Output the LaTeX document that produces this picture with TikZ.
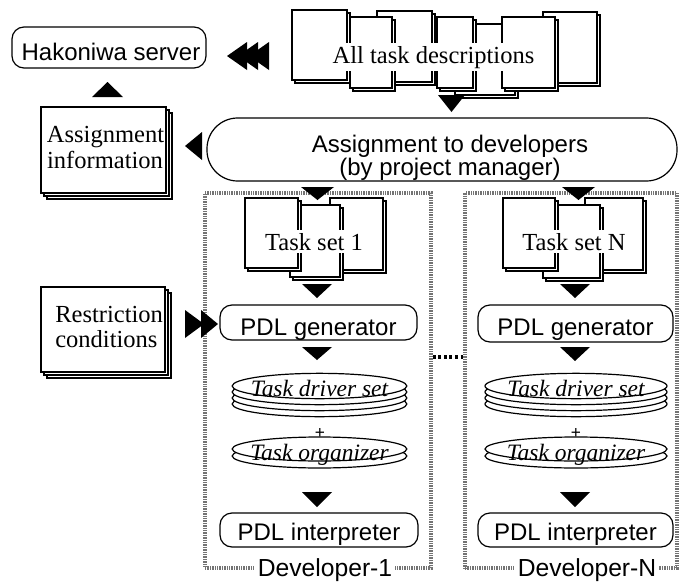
\documentclass[tikz,border=0pt]{standalone}
\usepackage{fontspec}
\setmainfont{Liberation Serif}
\setsansfont{Liberation Sans}
\usetikzlibrary{shapes.geometric,shadows}
\newcommand\TriDn[4]{\fill (#1,#2) -- ++(#3,0) -- ++({-(#3)/2},#4) -- cycle;}
\newcommand\TriUp[4]{\fill (#1,#2) -- ++(#3,0) -- ++({-(#3)/2},{-(#4)}) -- cycle;}
\newcommand\TriLt[4]{\fill (#1,#2) -- ++(0,#4) -- ++({-(#3)},{-(#4)/2}) -- cycle;}
\newcommand\TriRt[4]{\fill (#1,#2) -- ++(0,#4) -- ++(#3,{-(#4)/2}) -- cycle;}
\tikzset{
 sf/.style={font=\sffamily\fontsize{18}{19}\selectfont},
 rm/.style={font=\rmfamily\fontsize{18.4}{19.5}\selectfont},
 itf/.style={font=\rmfamily\itshape\fontsize{17.6}{20}\selectfont},
 txt/.style={inner sep=0pt, anchor=base},
 rbox/.style={draw, line width=0.9pt, rounded corners=9pt, inner sep=0pt, fill=white},
 sheet/.style={draw, fill=white, line width=0.9pt,
   copy shadow={shadow xshift=2.2pt, shadow yshift=-2.2pt, draw, fill=white, line width=1.6pt}},
 docbox/.style={draw, fill=white, line width=0.9pt, inner sep=0pt,
   copy shadow={shadow xshift=4.6pt, shadow yshift=-4.6pt, draw, fill=white, line width=1.4pt},
   copy shadow={shadow xshift=2.2pt, shadow yshift=-2.2pt, draw, fill=white, line width=1.4pt}},
 devbox/.style={draw=black!55, line width=2.4pt, dash pattern=on 1pt off 0.8pt, inner sep=0pt},
 devdots/.style={line width=2.6pt, dash pattern=on 2.2pt off 2pt},
 disk/.style={ellipse, draw, fill=white, line width=0.9pt, inner sep=0pt},
 plussign/.style={font=\sffamily\fontsize{13}{13}\selectfont, inner sep=0pt},
 devlabel/.style={font=\sffamily\fontsize{18.5}{20}\selectfont, fill=white, inner sep=2pt, anchor=base},
}
\begin{document}
\begin{tikzpicture}[x=0.75pt,y=-0.75pt]
\useasboundingbox (0,0) rectangle (679,582);

% developer frames
\node[devbox, minimum width=169.5pt, minimum height=281.25pt] (dev1) at (318,380.5) {};
\node[devbox, minimum width=159pt, minimum height=281.25pt] (devN) at (571,380.5) {};
\draw[devdots] ([yshift=17.6pt]dev1.east) -- ([yshift=17.6pt]devN.west);
\node[devlabel] (lab1) at (325,576) {Developer-1};
\node[devlabel] (labN) at (587,576) {Developer-N};

% Hakoniwa server
\node[rbox, minimum width=145.5pt, minimum height=30.75pt] (hak) at (109,47.5) {};
\node[txt, sf] (hakt) at (111,60) {Hakoniwa server};

% All task descriptions
\draw[sheet] (292,10) rectangle (347,80);
\draw[sheet] (377,11) rectangle (432,82);
\draw[sheet] (455,24) rectangle (515,95);
\draw[sheet] (543,12) rectangle (597,83);
\draw[sheet] (350,17) rectangle (392,88);
\draw[sheet] (437,17) rectangle (473,88);
\draw[sheet] (502,17) rectangle (555,88);
\node[rm, fill=white, inner sep=2pt, anchor=base] (all) at (433.5,63) {All task descriptions};

% Assignment to developers
\node[draw, line width=0.9pt, rounded corners=23pt, fill=white, minimum width=352.5pt, minimum height=47.25pt] (assign) at (442,149.5) {};
\node[txt, sf] (as1) at (450,152) {Assignment to developers};
\node[txt, sf] (as2) at (450,175) {(by project manager)};

% Assignment information
\node[docbox, minimum width=93.75pt, minimum height=64.5pt] (ainfo) at (103.5,150) {};
\node[txt, rm] (ai1) at (105.5,142) {Assignment};
\node[txt, rm] (ai2) at (105,168) {information};

% Restriction conditions
\node[docbox, minimum width=93pt, minimum height=63.75pt] (restr) at (103,329.5) {};
\node[txt, rm, anchor=base west] (rc1) at (55,322) {Restriction};
\node[txt, rm, anchor=base west] (rc2) at (55,347) {conditions};

% Task sets
\draw[sheet] (330,198) rectangle (383,270);
\draw[sheet] (290,205) rectangle (340,277);
\draw[sheet] (245,198) rectangle (298,268);
\node[rm, fill=white, inner sep=2pt, anchor=base] (ts1) at (314,250) {Task set 1};
\draw[sheet] (585,198) rectangle (643,270);
\draw[sheet] (543,205) rectangle (600,278);
\draw[sheet] (503,198) rectangle (555,268);
\node[rm, fill=white, inner sep=2pt, anchor=base] (tsN) at (574,250) {Task set N};

% PDL generators
\node[rbox, minimum width=147.75pt, minimum height=26.25pt] (gen1) at (318.5,322.5) {};
\node[txt, sf] (gen1t) at (318.5,335) {PDL generator};
\node[rbox, minimum width=146.25pt, minimum height=27.75pt] (genN) at (575.5,323.5) {};
\node[txt, sf] (genNt) at (575.5,335) {PDL generator};

% Task driver sets
\foreach \k in {3,2,1} {
  \node[disk, minimum width=131pt, minimum height=19pt] at (319.5,{386+6*\k}) {};
  \node[disk, minimum width=136.5pt, minimum height=19pt] at (576,{386+6*\k}) {};
}
\node[disk, minimum width=131pt, minimum height=19pt] (tds1) at (319.5,386) {};
\node[txt, itf] (tds1t) at (319.5,396) {Task driver set};
\node[disk, minimum width=136.5pt, minimum height=19pt] (tdsN) at (576,386) {};
\node[txt, itf] (tdsNt) at (576,396) {Task driver set};

% Task organizers
\node[disk, minimum width=131pt, minimum height=18pt] at (319.5,456) {};
\node[disk, minimum width=131pt, minimum height=18pt] (org1) at (319.5,449) {};
\node[txt, itf] (org1t) at (319.5,460) {Task organizer};
\node[disk, minimum width=136.5pt, minimum height=18pt] at (576,456) {};
\node[disk, minimum width=136.5pt, minimum height=18pt] (orgN) at (576,449) {};
\node[txt, itf] (orgNt) at (576,460) {Task organizer};
\node[plussign] (plus1) at (320,433.5) {+};
\node[plussign] (plusN) at (576,433.5) {+};

% PDL interpreters
\node[rbox, minimum width=148.5pt, minimum height=25.5pt] (int1) at (319,530) {};
\node[txt, sf] (int1t) at (319,540) {PDL interpreter};
\node[rbox, minimum width=146.25pt, minimum height=25.5pt] (intN) at (575.5,530) {};
\node[txt, sf] (intNt) at (575.5,540) {PDL interpreter};

% arrowheads
\TriDn{438}{95}{27}{17}
\TriDn{301}{187}{33}{13}
\TriDn{562}{187}{33}{13}
\TriDn{302}{284}{30}{14}
\TriDn{560}{284}{30}{14}
\TriDn{302}{347}{30}{13}
\TriDn{560}{347}{30}{14}
\TriDn{302}{492}{30}{15}
\TriDn{560}{492}{30}{15}
\TriUp{92}{97}{31}{15}
\TriLt{202}{132}{17}{28}
\TriLt{247}{42}{20}{28}
\TriLt{258}{42}{20}{28}
\TriLt{269}{42}{20}{28}
\TriRt{185}{310}{19}{28}
\TriRt{201}{310}{17}{28}
\end{tikzpicture}
\end{document}
